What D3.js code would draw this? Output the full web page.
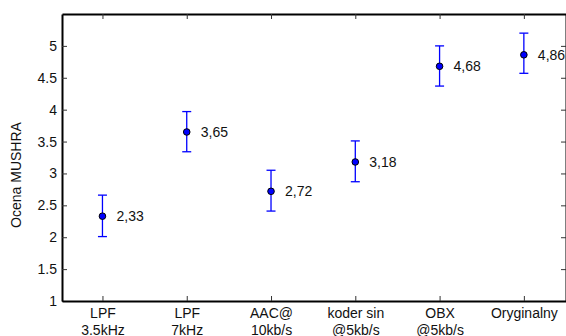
<!DOCTYPE html>
<html lang="pl">
<head>
<meta charset="UTF-8">
<title>Ocena MUSHRA</title>
<script src="https://d3js.org/d3.v7.min.js"></script>
<style>
  body { margin: 0; background: #fff; }
  svg text { font-family: "Liberation Sans", Arial, Helvetica, sans-serif; fill: #111; }
</style>
</head>
<body>
<script>
// data
var categories = [["LPF", "3.5kHz"], ["LPF", "7kHz"], ["AAC@", "10kb/s"], ["koder sin", "@5kb/s"], ["OBX", "@5kb/s"], ["Oryginalny", ""]];
var means = [2.33, 3.65, 2.72, 3.18, 4.68, 4.86];
var lower = [2.01, 3.34, 2.41, 2.87, 4.37, 4.57];
var upper = [2.66, 3.97, 3.05, 3.51, 5.00, 5.20];
var labels = ["2,33", "3,65", "2,72", "3,18", "4,68", "4,86"];
var yTicks = [1, 1.5, 2, 2.5, 3, 3.5, 4, 4.5, 5];

var width = 566, height = 336;
var plotL = 62, plotR = 566, plotT = 14, plotB = 301;
var fs = '14px';

var svg = d3.select('body').append('svg')
    .attr('width', width)
    .attr('height', height);

var x = d3.scaleLinear().domain([0.52, 6.5]).range([plotL, plotR]);
var y = d3.scaleLinear().domain([1, 5.5]).range([plotB, plotT]);
var idx = d3.range(1, categories.length + 1);

// frame: axes on all four sides, ticks pointing inward
var yAxis = d3.axisLeft(y).tickValues(yTicks).tickSizeInner(-5).tickSizeOuter(0)
    .tickPadding(5).tickFormat(d3.format('~g'));
var gy = svg.append('g').attr('transform', 'translate(' + plotL + ',0)').call(yAxis);

var yAxisR = d3.axisRight(y).tickValues(yTicks).tickSizeInner(-5).tickSizeOuter(0).tickFormat('');
var gyr = svg.append('g').attr('transform', 'translate(' + plotR + ',0)').call(yAxisR);

var xAxis = d3.axisBottom(x).tickValues(idx).tickSizeInner(-5).tickSizeOuter(0).tickFormat('');
var gx = svg.append('g').attr('transform', 'translate(0,' + plotB + ')').call(xAxis);

var xAxisT = d3.axisTop(x).tickValues(idx).tickSizeInner(-5).tickSizeOuter(0).tickFormat('');
var gxt = svg.append('g').attr('transform', 'translate(0,' + plotT + ')').call(xAxisT);

[gy, gyr, gx, gxt].forEach(function(g) {
  g.select('.domain').attr('stroke', '#000').attr('stroke-width', 2);
  g.selectAll('.tick line').attr('stroke', '#333').attr('stroke-width', 1);
});
gy.selectAll('.tick text').style('font-size', fs).attr('fill', '#111');

// two-line category labels
gx.selectAll('.tick').each(function(d, i) {
  var t = d3.select(this).append('text')
      .attr('text-anchor', 'middle')
      .attr('fill', '#111')
      .style('font-size', fs);
  t.append('tspan').attr('x', 0).attr('y', 17).text(categories[i][0]);
  t.append('tspan').attr('x', 0).attr('y', 34).text(categories[i][1]);
});

// y label
svg.append('text')
    .attr('transform', 'translate(21,175) rotate(-90)')
    .attr('text-anchor', 'middle')
    .style('font-size', fs)
    .text('Ocena MUSHRA');

// error bars
var eb = svg.append('g').attr('stroke', '#0000ff').attr('stroke-width', 1.3);
eb.selectAll('line.v').data(means).enter().append('line')
    .attr('x1', function(d, i) { return x(i + 1); })
    .attr('x2', function(d, i) { return x(i + 1); })
    .attr('y1', function(d, i) { return y(lower[i]); })
    .attr('y2', function(d, i) { return y(upper[i]); });
eb.selectAll('line.lo').data(means).enter().append('line')
    .attr('x1', function(d, i) { return x(i + 1) - 4.5; })
    .attr('x2', function(d, i) { return x(i + 1) + 4.5; })
    .attr('y1', function(d, i) { return y(lower[i]); })
    .attr('y2', function(d, i) { return y(lower[i]); });
eb.selectAll('line.hi').data(means).enter().append('line')
    .attr('x1', function(d, i) { return x(i + 1) - 4.5; })
    .attr('x2', function(d, i) { return x(i + 1) + 4.5; })
    .attr('y1', function(d, i) { return y(upper[i]); })
    .attr('y2', function(d, i) { return y(upper[i]); });

// points
svg.selectAll('circle').data(means).enter().append('circle')
    .attr('cx', function(d, i) { return x(i + 1); })
    .attr('cy', function(d) { return y(d); })
    .attr('r', 3.3)
    .attr('fill', '#0000ff')
    .attr('stroke', '#000')
    .attr('stroke-width', 1);

// value labels
svg.selectAll('text.val').data(means).enter().append('text')
    .attr('class', 'val')
    .attr('x', function(d, i) { return x(i + 1) + 14; })
    .attr('y', function(d) { return y(d) + 5; })
    .style('font-size', fs)
    .text(function(d, i) { return labels[i]; });
</script>
</body>
</html>
